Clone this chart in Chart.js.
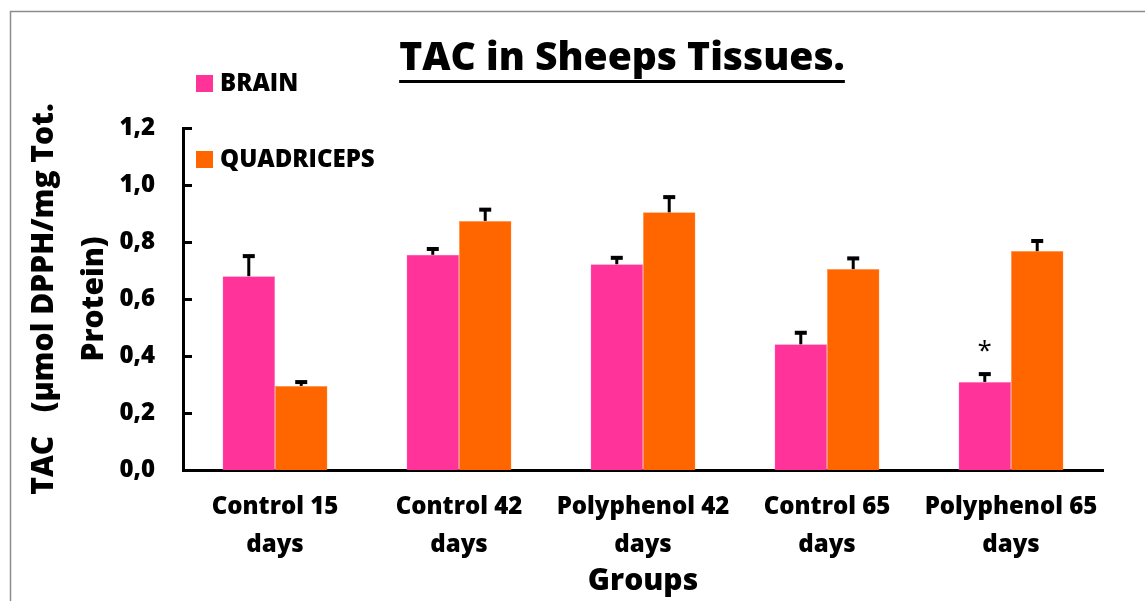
<!DOCTYPE html>
<html>
<head>
<meta charset="utf-8">
<script src="https://cdn.jsdelivr.net/npm/chart.js@4.4.1/dist/chart.umd.min.js"></script>
<style>
    html, body { margin: 0; padding: 0; background: #fff; }
    #wrap { width: 1145px; height: 601px; }
</style>
</head>
<body>
<div id="wrap"><canvas id="tacChart" width="1145" height="601"></canvas></div>
<script>
// TAC values per group (mean and SEM)
const groups = [
    ['Control 15', 'days'],
    ['Control 42', 'days'],
    ['Polyphenol 42', 'days'],
    ['Control 65', 'days'],
    ['Polyphenol 65', 'days']
];
const brain = [0.680, 0.755, 0.722, 0.441, 0.309];
const brainErr = [0.074, 0.024, 0.026, 0.044, 0.031];
const quadriceps = [0.295, 0.874, 0.904, 0.705, 0.768];
const quadricepsErr = [0.017, 0.043, 0.057, 0.041, 0.039];
const brainMarks = ['', '', '', '', '*'];
const yTicks = [0, 0.2, 0.4, 0.6, 0.8, 1.0, 1.2];

const FONT = "'Open Sans', 'Liberation Sans', sans-serif";
const W = '800';

// error bars, inward y ticks, legend, title, asterisk and outer frame
const extras = {
    id: 'extras',
    afterDatasetsDraw(chart) {
        const ctx = chart.ctx;
        const y = chart.scales.y;
        const errs = [brainErr, quadricepsErr];
        ctx.save();
        ctx.strokeStyle = '#000';
        ctx.fillStyle = '#000';
        chart.data.datasets.forEach((ds, di) => {
            const meta = chart.getDatasetMeta(di);
            meta.data.forEach((bar, i) => {
                const top = y.getPixelForValue(ds.data[i] + errs[di][i]);
                ctx.lineWidth = 3;
                ctx.beginPath();
                ctx.moveTo(bar.x, bar.y);
                ctx.lineTo(bar.x, top);
                ctx.stroke();
                ctx.fillRect(bar.x - 6, top - 1, 12, 4);
            });
        });
        // significance mark above brain bars
        const bmeta = chart.getDatasetMeta(0);
        ctx.font = "26px " + FONT;
        ctx.textAlign = 'center';
        ctx.textBaseline = 'middle';
        brainMarks.forEach((m, i) => {
            if (!m) return;
            const top = y.getPixelForValue(brain[i] + brainErr[i]);
            ctx.fillText(m, bmeta.data[i].x, top - 22);
        });
        ctx.restore();
    },
    afterDraw(chart) {
        const ctx = chart.ctx;
        const y = chart.scales.y;
        const area = chart.chartArea;
        ctx.save();
        // tick marks pointing into the plot
        ctx.strokeStyle = '#000';
        ctx.lineWidth = 3;
        y.ticks.forEach(t => {
            const py = Math.round(y.getPixelForValue(t.value)) + 0.5;
            ctx.beginPath();
            ctx.moveTo(area.left, py);
            ctx.lineTo(area.left + 9, py);
            ctx.stroke();
        });

        // title, underlined
        const title = 'TAC in Sheeps Tissues.';
        ctx.font = W + " 39px " + FONT;
        ctx.textAlign = 'center';
        ctx.textBaseline = 'alphabetic';
        ctx.fillStyle = '#000';
        const cx = 622;
        ctx.fillText(title, cx, 70);
        const w = ctx.measureText(title).width;
        ctx.fillRect(cx - w / 2, 80, w, 3);

        // legend
        ctx.font = W + " 24px " + FONT;
        ctx.textAlign = 'left';
        ctx.textBaseline = 'middle';
        const rows = [75, 151];
        chart.data.datasets.forEach((ds, i) => {
            ctx.fillStyle = ds.backgroundColor;
            ctx.fillRect(196, rows[i], 17, 17);
            ctx.fillStyle = '#000';
            ctx.fillText(ds.label, 220, rows[i] + 9);
        });

        // outer frame
        ctx.strokeStyle = '#8c8c8c';
        ctx.lineWidth = 1.5;
        ctx.strokeRect(10.5, 11.5, 1300, 700);
        ctx.restore();
    }
};

const data = {
    labels: groups,
    datasets: [
        {
            label: 'BRAIN',
            data: brain,
            backgroundColor: '#ff3399',
            borderColor: '#ff7fbf',
            borderWidth: 0.5
        },
        {
            label: 'QUADRICEPS',
            data: quadriceps,
            backgroundColor: '#ff6600',
            borderColor: '#ff9a5a',
            borderWidth: 0.5
        }
    ]
};

const config = {
    type: 'bar',
    data: data,
    options: {
        responsive: false,
        animation: false,
        layout: { padding: { top: 128, right: 42, left: 0, bottom: 0 } },
        datasets: {
            bar: { categoryPercentage: 0.57, barPercentage: 1.0 }
        },
        scales: {
            x: {
                grid: { display: false, drawTicks: false },
                border: { display: true, color: '#000', width: 3 },
                ticks: {
                    color: '#000',
                    padding: 19,
                    maxRotation: 0,
                    font: { family: FONT, size: 24, weight: W, lineHeight: 1.55 }
                },
                title: {
                    display: true,
                    text: 'Groups',
                    color: '#000',
                    padding: { top: 0, bottom: 2 },
                    font: { family: FONT, size: 30, weight: W, lineHeight: 1.2 }
                },
                afterFit(scale) { scale.height = 131; }
            },
            y: {
                min: 0,
                max: 1.2,
                afterBuildTicks(scale) {
                    scale.ticks = yTicks.map(v => ({ value: v }));
                },
                grid: { display: false, drawTicks: false },
                border: { display: true, color: '#000', width: 3 },
                ticks: {
                    color: '#000',
                    padding: 28,
                    font: { family: FONT, size: 24, weight: W },
                    callback: v => v.toFixed(1).replace('.', ',')
                },
                title: {
                    display: true,
                    text: ['TAC   (µmol DPPH/mg Tot.', 'Protein)'],
                    color: '#000',
                    padding: { top: 20, bottom: 0 },
                    font: { family: FONT, size: 30, weight: W, lineHeight: 1.65 }
                },
                afterFit(scale) { scale.width = 183; }
            }
        },
        plugins: {
            legend: { display: false },
            title: { display: false },
            tooltip: { enabled: false }
        }
    },
    plugins: [extras]
};

new Chart(document.getElementById('tacChart').getContext('2d'), config);
</script>
</body>
</html>
